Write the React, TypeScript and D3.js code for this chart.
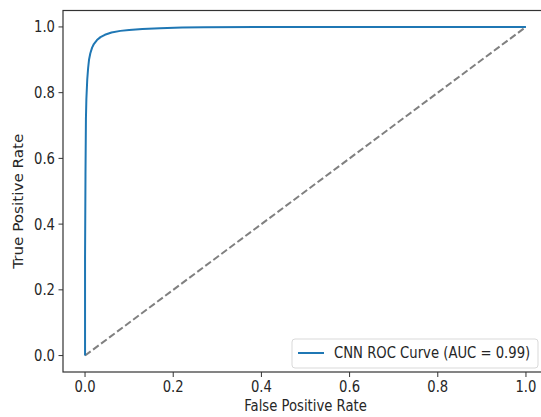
import React from "react";
import * as d3 from "d3";

// ROC curve points
const fpr = [0, 0, 0.001, 0.002, 0.003, 0.005, 0.007, 0.009, 0.012, 0.016, 0.02, 0.027, 0.035, 0.045, 0.06, 0.08, 0.1, 0.13, 0.17, 0.22, 0.27, 0.4, 0.6, 0.8, 1.0];
const tpr = [0, 0.3, 0.55, 0.72, 0.78, 0.84, 0.875, 0.9, 0.92, 0.937, 0.948, 0.96, 0.969, 0.976, 0.983, 0.988, 0.991, 0.994, 0.996, 0.998, 0.999, 1.0, 1.0, 1.0, 1.0];
const diagonal = [0, 1];
const xTicks = [0, 0.2, 0.4, 0.6, 0.8, 1.0];
const yTicks = [0, 0.2, 0.4, 0.6, 0.8, 1.0];
const legendLabel = "CNN ROC Curve (AUC = 0.99)";

const W = 541;
const H = 417;
const left = 63;
const right = 548;
const top = 10.5;
const bottom = 372;
const FONT = "DejaVu Sans, sans-serif";
const TEXT = "#262626";
const FS = 13.2;
// the screenshot is stretched a bit vertically
const SY = 1.15;

export default function App() {
  const x = d3.scaleLinear().domain([-0.05, 1.05]).range([left, right]);
  const y = d3.scaleLinear().domain([-0.05, 1.05]).range([bottom, top]);

  const pts: [number, number][] = fpr.map((f, i) => [f, tpr[i]]);
  const line = d3
    .line<[number, number]>()
    .x((d) => x(d[0]))
    .y((d) => y(d[1]));

  const diag: [number, number][] = diagonal.map((d) => [d, d]);

  return (
    <div style={{ position: "fixed", left: 0, top: 0 }}>
      <svg width={W} height={H} style={{ display: "block", background: "#fff" }}>
        <defs>
          <clipPath id="plot">
            <rect x={left} y={top} width={right - left} height={bottom - top} />
          </clipPath>
        </defs>

        <g clipPath="url(#plot)">
          <path
            d={line(diag) || ""}
            fill="none"
            stroke="#808080"
            strokeWidth={2}
            strokeDasharray="7,3"
          />
          <path
            d={line(pts) || ""}
            fill="none"
            stroke="#1f77b4"
            strokeWidth={2}
            strokeLinejoin="round"
          />
        </g>

        {/* spines */}
        <rect
          x={left}
          y={top}
          width={right - left}
          height={bottom - top}
          fill="none"
          stroke="#333"
          strokeWidth={1.2}
        />

        {/* x axis */}
        {xTicks.map((t) => (
          <g key={"x" + t} transform={`translate(${x(t)},${bottom})`}>
            <line y1={0} y2={5} stroke="#333" strokeWidth={1} />
            <text
              transform={`translate(0,20) scale(1,${SY})`}
              textAnchor="middle"
              fontFamily={FONT}
              fontSize={FS}
              fill={TEXT}
            >
              {t.toFixed(1)}
            </text>
          </g>
        ))}
        <text
          transform={`translate(${(left + right) / 2},411) scale(1,${SY})`}
          textAnchor="middle"
          fontFamily={FONT}
          fontSize={FS}
          fill={TEXT}
        >
          False Positive Rate
        </text>

        {/* y axis */}
        {yTicks.map((t) => (
          <g key={"y" + t} transform={`translate(${left},${y(t)})`}>
            <line x1={0} x2={-4.5} stroke="#333" strokeWidth={1} />
            <text
              transform={`scale(1,${SY})`}
              x={-8}
              dy="0.36em"
              textAnchor="end"
              fontFamily={FONT}
              fontSize={FS}
              fill={TEXT}
            >
              {t.toFixed(1)}
            </text>
          </g>
        ))}
        <text
          transform={`translate(23,${(top + bottom) / 2 + 10}) scale(1,${SY}) rotate(-90)`}
          textAnchor="middle"
          fontFamily={FONT}
          fontSize={FS}
          fill={TEXT}
        >
          True Positive Rate
        </text>

        {/* legend */}
        <g transform="translate(292,339)">
          <rect
            width={246}
            height={29}
            rx={3}
            fill="#fff"
            fillOpacity={0.8}
            stroke="#d9d9d9"
            strokeWidth={1}
          />
          <line x1={6} x2={32} y1={14} y2={14} stroke="#1f77b4" strokeWidth={2} />
          <text
            transform={`translate(42,14) scale(1,${SY})`}
            dy="0.36em"
            fontFamily={FONT}
            fontSize={FS}
            fill={TEXT}
          >
            {legendLabel}
          </text>
        </g>
      </svg>
    </div>
  );
}
